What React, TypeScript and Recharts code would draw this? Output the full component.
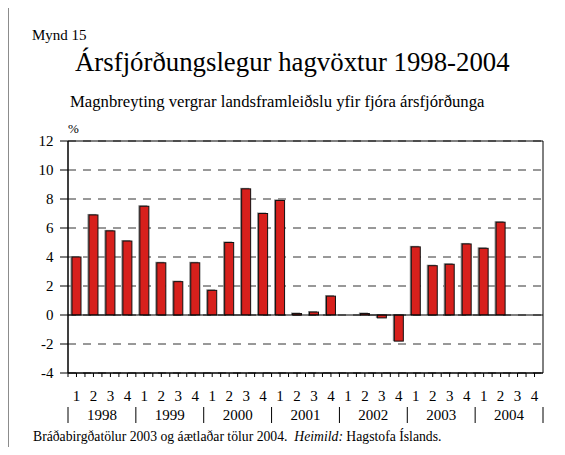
import React from 'react';
import { BarChart, Bar, XAxis, YAxis, CartesianGrid, ReferenceLine, ReferenceArea } from 'recharts';

const years = ['1998', '1999', '2000', '2001', '2002', '2003', '2004'];
const quarters = ['1', '2', '3', '4'];
const growth: (number | null)[] = [
  4.0, 6.9, 5.8, 5.1,
  7.5, 3.6, 2.3, 3.6,
  1.7, 5.0, 8.7, 7.0,
  7.9, 0.1, 0.2, 1.3,
  0.0, 0.1, -0.2, -1.8,
  4.7, 3.4, 3.5, 4.9,
  4.6, 6.4, null, null,
];
const majorTicks = [-4, -2, 0, 2, 4, 6, 8, 10, 12];
const minorTicks = [-3, -1, 1, 3, 5, 7, 9, 11];

const data = years.flatMap((y, i) =>
  quarters.map((q, j) => ({ key: `${y}-${q}`, q, year: y, value: growth[i * 4 + j] }))
);

const FONT = '"Liberation Serif", "Times New Roman", serif';
const lastKey = data[data.length - 1].key;

const BarShape = (props: any) => {
  const { x, y, width, height } = props;
  if (height == null || width == null) return null;
  const y0 = Math.min(y, y + height);
  const h = Math.abs(height);
  if (h < 0.01) return null;
  return (
    <g>
      <rect x={x - 1.5} y={y0 - 1} width={width} height={h + 1} fill="#8a8a8a" />
      <rect x={x} y={y0} width={width} height={h} fill="#d7201c" stroke="#111" strokeWidth={1} />
    </g>
  );
};

const YMajorTick = (props: any) => {
  const { x, y, payload } = props;
  return (
    <g>
      <line x1={x - 8} y1={y} x2={x} y2={y} stroke="#000" strokeWidth={1} />
      <text x={x - 14.5} y={y} dy="0.35em" textAnchor="end" style={{ fontFamily: FONT, fontSize: 15 }} fill="#000">
        {payload.value}
      </text>
    </g>
  );
};

const YMinorTick = (props: any) => {
  const { x, y } = props;
  return <line x1={x - 4} y1={y} x2={x} y2={y} stroke="#000" strokeWidth={1} />;
};

const XTick = (props: any) => {
  const { x, y, payload, index } = props;
  const off = payload.offset || 0;
  const d = data[index] || data.find((e) => e.key === payload.value);
  const isFirst = d && d.q === '1';
  const isLast = payload.value === lastKey;
  const ts = { fontFamily: FONT, fontSize: 15 };
  return (
    <g>
      <line x1={x} y1={y} x2={x} y2={y + 4} stroke="#000" />
      <line x1={x - off} y1={y} x2={x - off} y2={y + 4} stroke="#000" />
      <text x={x} y={y + 23} dy="0.35em" textAnchor="middle" style={ts} fill="#000">
        {d ? d.q : ''}
      </text>
      {isFirst && (
        <g>
          <line x1={x - off} y1={y + 34} x2={x - off} y2={y + 50} stroke="#000" />
          <text x={x + 3 * off} y={y + 42} dy="0.35em" textAnchor="middle" style={ts} fill="#000">
            {d.year}
          </text>
        </g>
      )}
      {isLast && <line x1={x + off} y1={y + 34} x2={x + off} y2={y + 50} stroke="#000" />}
    </g>
  );
};

export default function App() {
  return (
    <div
      style={{
        position: 'relative',
        width: 565,
        height: 455,
        margin: -8,
        overflow: 'hidden',
        background: '#fff',
        fontFamily: FONT,
        color: '#000',
      }}
    >
      <div
        style={{
          position: 'absolute',
          left: 7,
          top: 6,
          width: 700,
          height: 600,
          borderTop: '2px solid #8c8c8c',
          borderLeft: '2px solid #8c8c8c',
        }}
      />
      <div style={{ position: 'absolute', left: 32, top: 27, fontSize: 15, lineHeight: '17px', whiteSpace: 'nowrap' }}>
        Mynd 15
      </div>
      <div style={{ position: 'absolute', left: 75, top: 47, fontSize: 26.8, lineHeight: '30px', whiteSpace: 'nowrap' }}>
        Ársfjórðungslegur hagvöxtur 1998-2004
      </div>
      <div style={{ position: 'absolute', left: 70, top: 92, fontSize: 16.7, lineHeight: '20px', whiteSpace: 'nowrap' }}>
        Magnbreyting vergrar landsframleiðslu yfir fjóra ársfjórðunga
      </div>
      <div style={{ position: 'absolute', left: 68, top: 121, fontSize: 13, lineHeight: '15px', whiteSpace: 'nowrap' }}>
        %
      </div>
      <div style={{ position: 'absolute', left: 33, top: 429, fontSize: 13.7, lineHeight: '15px', whiteSpace: 'pre' }}>
        Bráðabirgðatölur 2003 og áætlaðar tölur 2004.  <i>Heimild:</i> Hagstofa Íslands.
      </div>
      <div style={{ position: 'absolute', left: 0, top: 0 }}>
        <BarChart
          width={565}
          height={455}
          data={data}
          margin={{ top: 141, right: 22, left: 28, bottom: 52 }}
          barSize={9}
        >
          <CartesianGrid horizontal vertical={false} stroke="#333" strokeDasharray="8 7" />
          <YAxis
            yAxisId="minor"
            width={0}
            type="number"
            domain={[-4, 12]}
            ticks={minorTicks}
            interval={0}
            tickSize={0}
            tickMargin={0}
            tickLine={false}
            axisLine={false}
            tick={<YMinorTick />}
          />
          <YAxis
            width={40}
            type="number"
            domain={[-4, 12]}
            ticks={majorTicks}
            interval={0}
            tickSize={0}
            tickMargin={0}
            tickLine={false}
            axisLine={{ stroke: '#000', strokeWidth: 1 }}
            tick={<YMajorTick />}
          />
          <XAxis
            dataKey="key"
            interval={0}
            height={30}
            tickSize={0}
            tickMargin={0}
            tickLine={false}
            axisLine={{ stroke: '#000', strokeWidth: 1 }}
            tick={<XTick />}
          />
          <ReferenceArea y1={-4} y2={12} fill="none" fillOpacity={0} stroke="#000" strokeWidth={1} strokeOpacity={1} ifOverflow="visible" />
          <Bar dataKey="value" shape={<BarShape />} isAnimationActive={false} />
          <ReferenceLine y={0} stroke="#000" strokeWidth={1} />
        </BarChart>
      </div>
    </div>
  );
}
